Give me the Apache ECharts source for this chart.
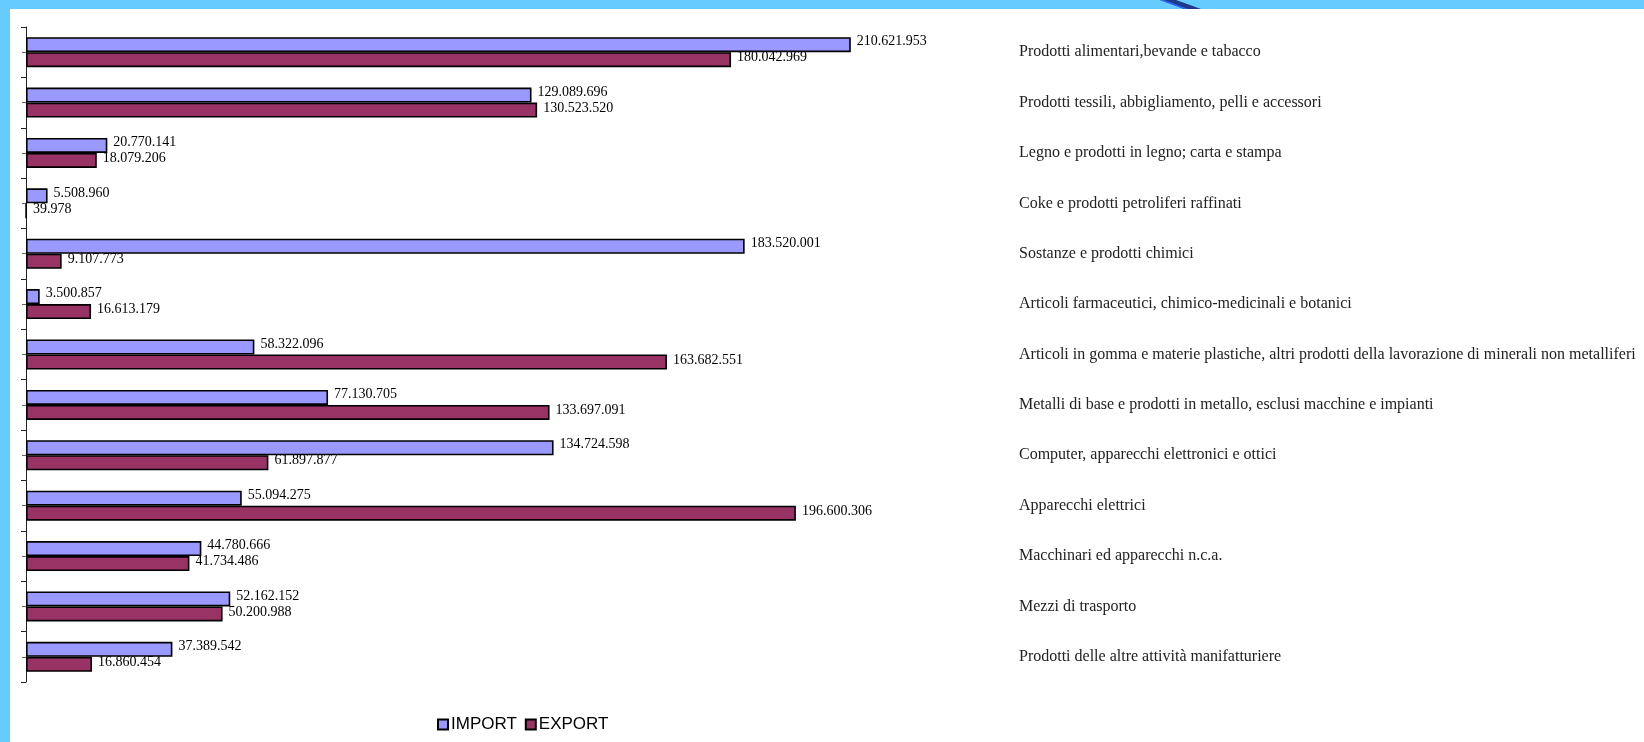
<!DOCTYPE html>
<html><head><meta charset="utf-8">
<script src="https://cdn.jsdelivr.net/npm/echarts@6/dist/echarts.min.js"></script>
<style>html,body{margin:0;padding:0;background:#fff}#c{width:1644px;height:742px}</style>
</head><body><div id="c"></div>
<script>
const categories = [
  "Prodotti alimentari,bevande e tabacco",
  "Prodotti tessili, abbigliamento, pelli e accessori",
  "Legno e prodotti in legno; carta e stampa",
  "Coke e prodotti petroliferi raffinati",
  "Sostanze e prodotti chimici",
  "Articoli farmaceutici, chimico-medicinali e botanici",
  "Articoli in gomma e materie plastiche, altri prodotti della lavorazione di minerali non metalliferi",
  "Metalli di base e prodotti in metallo, esclusi macchine e impianti",
  "Computer, apparecchi elettronici e ottici",
  "Apparecchi elettrici",
  "Macchinari ed apparecchi n.c.a.",
  "Mezzi di trasporto",
  "Prodotti delle altre attività manifatturiere"
];
const importValues = [210621953,129089696,20770141,5508960,183520001,3500857,58322096,77130705,134724598,55094275,44780666,52162152,37389542];
const exportValues = [180042969,130523520,18079206,39978,9107773,16613179,163682551,133697091,61897877,196600306,41734486,50200988,16860454];
const seriesNames = ["IMPORT","EXPORT"];

function fmt(v){ return String(v).replace(/\B(?=(\d{3})+(?!\d))/g, "."); }

const chart = echarts.init(document.getElementById('c'), null, {renderer:'canvas'});
const serif = "'Liberation Serif','Times New Roman',serif";
function labelCfg(dy){
  return {show:true, position:'right', distance:6, offset:[0,dy], color:'#000', fontFamily:serif, fontSize:14, formatter:p=>fmt(p.value)};
}
chart.setOption({
  animation:false,
  backgroundColor:'#fff',
  graphic:[
    {type:'rect', shape:{x:0,y:0,width:1644,height:9}, style:{fill:'#66CCFF'}, z:100},
    {type:'rect', shape:{x:0,y:0,width:10,height:742}, style:{fill:'#66CCFF'}, z:100},
    {type:'polygon', shape:{points:[[1160,0],[1176,0],[1201,9],[1184,9]]}, style:{fill:'#1F3A8A'}, z:101},
    {type:'polygon', shape:{points:[[1160,0],[1164,0],[1188,9],[1184,9]]}, style:{fill:'#3366FF'}, z:102}
  ],
  grid:{left:26, right:639, top:27, bottom:60, containLabel:false},
  legend:{
    data:seriesNames, left:432, top:711, itemWidth:10, itemHeight:10, itemGap:8, icon:'rect',
    textStyle:{fontFamily:"'Liberation Sans',Arial,sans-serif", fontSize:17, color:'#000', padding:[0,0,0,-2]}
  },
  xAxis:{type:'value', min:0, max:250000000, show:false},
  yAxis:[
    {type:'category', data:categories, inverse:true, position:'left',
     axisLine:{show:true, onZero:false, lineStyle:{color:'#222', width:1}},
     axisTick:{show:true, length:5, alignWithLabel:false, lineStyle:{color:'#222'}},
     axisLabel:{show:false}},
    {type:'category', data:categories, inverse:true, position:'left',
     axisLine:{show:false, onZero:false},
     axisTick:{show:true, length:4, alignWithLabel:true, lineStyle:{color:'#666'}},
     axisLabel:{show:false}},
    {type:'category', data:categories, inverse:true, position:'right',
     axisLine:{show:false, onZero:false}, axisTick:{show:false},
     axisLabel:{show:true, margin:14, fontFamily:serif, fontSize:16, color:'#222', align:'left'}}
  ],
  series:[
    {name:seriesNames[0], type:'bar', yAxisIndex:0, data:importValues, barWidth:15, barGap:'0%',
     itemStyle:{color:'#9999FF', borderColor:'#000', borderWidth:1.6}, label:labelCfg(-3)},
    {name:seriesNames[1], type:'bar', yAxisIndex:0, data:exportValues, barWidth:15, barGap:'0%',
     itemStyle:{color:'#993366', borderColor:'#000', borderWidth:1.6}, label:labelCfg(-2)}
  ]
});
</script></body></html>
